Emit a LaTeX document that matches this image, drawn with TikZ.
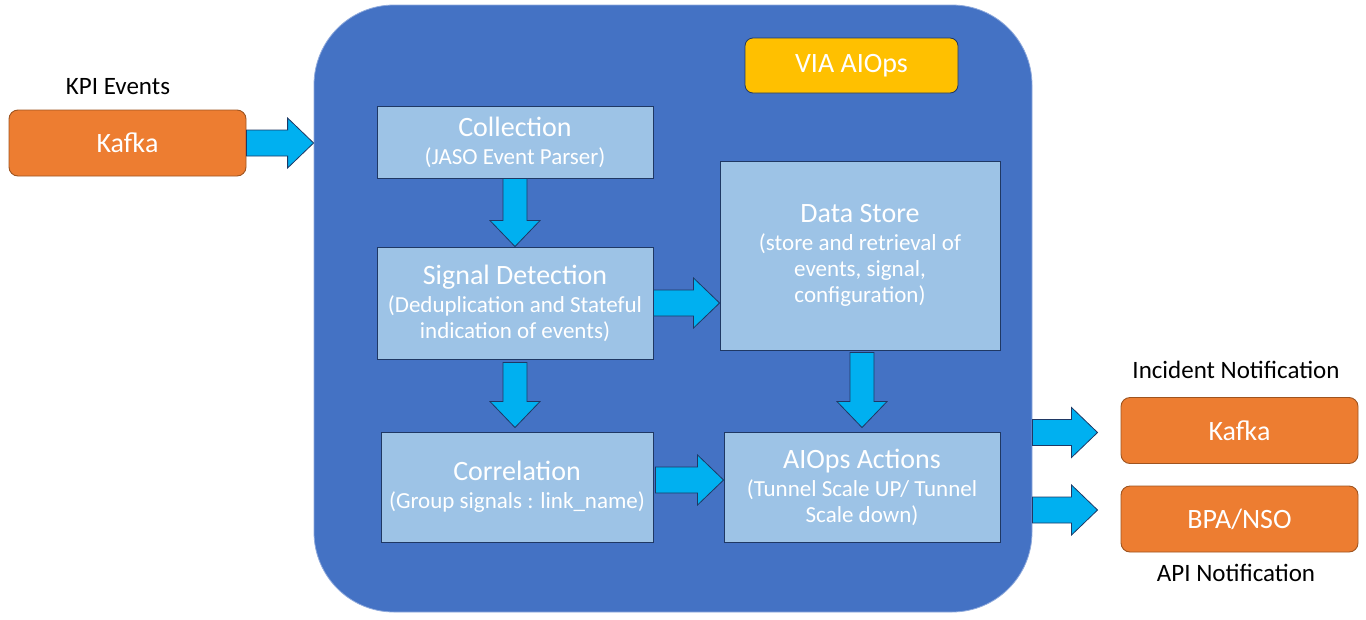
\documentclass[tikz,border=0pt]{standalone}
\usepackage{fontspec}
\setmainfont{Carlito}
\usetikzlibrary{calc}
\definecolor{mainblue}{HTML}{4472C4}
\definecolor{mainedge}{HTML}{8FAADC}
\definecolor{lightbox}{HTML}{9DC3E6}
\definecolor{boxedge}{HTML}{1F3864}
\definecolor{arrowfill}{HTML}{00B0F0}
\definecolor{orangefill}{HTML}{ED7D31}
\definecolor{orangeedge}{HTML}{9E5420}
\definecolor{yellowfill}{HTML}{FFC000}
\newcommand{\ttl}{\fontsize{28}{32}\selectfont}
\newcommand{\sbt}{\fontsize{23}{26}\selectfont}
\tikzset{
  stagebox/.style={draw=boxedge, line width=0.9pt, fill=lightbox, text=white, align=center, inner sep=2pt, font=\sbt},
  orangebox/.style={draw=orangeedge, line width=0.9pt, fill=orangefill, text=white, rounded corners=9pt, minimum width=237pt, minimum height=66pt, font=\ttl},
  blockarrow/.style={draw=boxedge, line width=0.8pt, fill=arrowfill, line join=miter},
  plainlabel/.style={text=black, font=\fontsize{25}{28}\selectfont},
}
% horizontal block arrow: from #1 to #2 (tip), same y as #1
\newcommand{\harrow}[2]{%
  \draw[blockarrow] let \p1=(#1), \p2=(#2) in
    (\x1,\y1+13) -- (\x2-26,\y1+13) -- (\x2-26,\y1+25) -- (\x2,\y1) --
    (\x2-26,\y1-25) -- (\x2-26,\y1-13) -- (\x1,\y1-13) -- cycle;}
% vertical block arrow (downwards): from #1 to #2 (tip), same x as #1
\newcommand{\varrow}[2]{%
  \draw[blockarrow] let \p1=(#1), \p2=(#2) in
    (\x1-12,\y1) -- (\x1-12,\y2+26) -- (\x1-25,\y2+26) -- (\x1,\y2) --
    (\x1+25,\y2+26) -- (\x1+12,\y2+26) -- (\x1+12,\y1) -- cycle;}
\begin{document}
\begin{tikzpicture}[x=1pt,y=-1pt]
\useasboundingbox (0,0) rectangle (1366,619);
% main container
\node[draw=mainedge, line width=0.8pt, fill=mainblue, rounded corners=80pt,
      minimum width=718pt, minimum height=607pt, inner sep=0pt] (main) at (673,308.5) {};
\node[draw=boxedge, line width=0.8pt, fill=yellowfill, rounded corners=8pt, text=white,
      minimum width=213pt, minimum height=55pt, font=\ttl] (via) at (851.5,65.5) {VIA AIOps};
% input
\node[orangebox] (kin) at (127.5,143) {Kafka};
\node[plainlabel] (kpi) at (118,87) {KPI Events};
% stages
\node[stagebox, minimum width=276pt, minimum height=72pt] (coll) at (515,142)
  {{\ttl Collection}\\[2pt](JASO Event Parser)};
\node[stagebox, minimum width=276pt, minimum height=112pt] (sig) at (515,303)
  {{\ttl Signal Detection}\\[2pt](Deduplication and Stateful\\indication of events)};
\node[stagebox, minimum width=280pt, minimum height=189pt] (ds) at (860,255.5)
  {{\ttl Data Store}\\[2pt](store and retrieval of\\events, signal,\\configuration)};
\node[stagebox, minimum width=272pt, minimum height=110pt] (cor) at (517,487)
  {{\ttl Correlation}\\[2pt](Group signals : link\_name)};
\node[stagebox, minimum width=276pt, minimum height=110pt] (act) at (862,487)
  {{\ttl AIOps Actions}\\[2pt](Tunnel Scale UP/ Tunnel\\Scale down)};
% outputs
\node[orangebox] (kout) at (1239.5,430.5) {Kafka};
\node[orangebox] (bpa) at (1239.5,519) {BPA/NSO};
\node[plainlabel] (inc) at (1236,370) {Incident Notification};
\node[plainlabel] (api) at (1236,573) {API Notification};
% arrows
\harrow{kin.east}{kin.east -| main.west}
\varrow{coll.south}{sig.north}
\harrow{sig.east}{sig.east -| ds.west}
\varrow{$(sig.south)+(0,3)$}{$(cor.north)+(0,-4)$}
\varrow{$(ds.south)+(2,2)$}{$(act.north)+(2,-4)$}
\harrow{$(cor.east)+(2,-7)$}{$(act.west)+(0,-7)$}
\harrow{$(kout.west -| main.east)+(0,2)$}{$(kout.west)+(-23,2)$}
\harrow{$(bpa.west -| main.east)+(0,-9)$}{$(bpa.west)+(-23,-9)$}
\end{tikzpicture}
\end{document}
